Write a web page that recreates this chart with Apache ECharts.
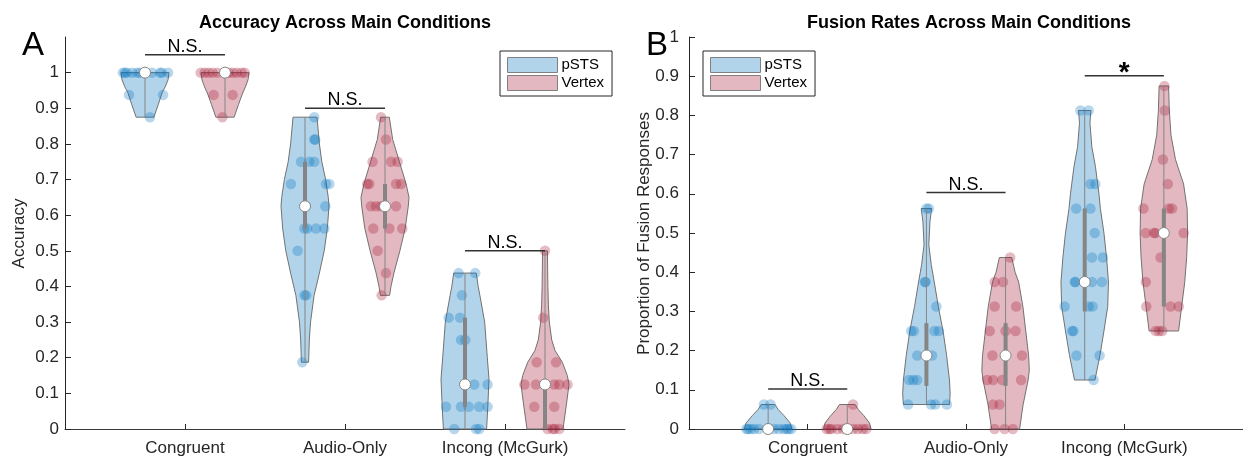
<!DOCTYPE html>
<html><head><meta charset="utf-8">
<script src="https://cdn.jsdelivr.net/npm/echarts@6/dist/echarts.min.js"></script>
<style>html,body{margin:0;padding:0;background:#fff}#c{width:1243px;height:457px}</style>
</head><body><div id="c"></div>
<script>
// ---------- DATA ----------
const categories = ['Congruent', 'Audio-Only', 'Incong (McGurk)'];
const groupNames = ['pSTS', 'Vertex'];
const yTicks = [0, 0.1, 0.2, 0.3, 0.4, 0.5, 0.6, 0.7, 0.8, 0.9, 1];

// Points: [value, horizontal jitter (category units)]
const accCongPSTS = [[1,-0.138],[1,-0.125],[1,-0.113],[1,-0.081],[1,-0.05],[1,-0.031],[1,0],[1,0.044],[1,0.094],[1,0.106],[1,0.144],[0.9375,-0.1],[0.9375,0.113],[0.875,0.031]];
const accCongVertex = [[1,-0.152],[1,-0.127],[1,-0.102],[1,-0.077],[1,-0.046],[1,0],[1,0.023],[1,0.048],[1,0.073],[1,0.104],[1,0.123],[0.9375,-0.071],[0.9375,0.048],[0.875,-0.016]];
const accAudioPSTS = [[0.875,0.058],[0.8125,0.058],[0.8125,0.064],[0.75,-0.025],[0.75,0.027],[0.75,0.058],[0.6875,-0.088],[0.6875,0.131],[0.6875,0.152],[0.625,0.006],[0.625,0.127],[0.5625,-0.004],[0.5625,0.014],[0.5625,0.069],[0.5625,0.121],[0.5,-0.046],[0.375,-0.004],[0.375,0.008],[0.1875,-0.017]];
const accAudioVertex = [[0.875,-0.025],[0.8125,0.006],[0.75,-0.078],[0.75,0.038],[0.75,0.079],[0.6875,-0.111],[0.6875,-0.098],[0.6875,0.069],[0.6875,0.1],[0.625,-0.088],[0.625,-0.056],[0.625,-0.025],[0.625,0.069],[0.5625,-0.073],[0.5625,0.027],[0.5625,0.108],[0.5,-0.046],[0.4375,0.006],[0.375,-0.021]];
const accIncongPSTS = [[0.4375,-0.04],[0.4375,0.064],[0.375,-0.019],[0.3125,-0.102],[0.3125,-0.031],[0.25,-0.025],[0.25,0.002],[0.125,0],[0.125,0.058],[0.125,0.141],[0.0625,-0.119],[0.0625,-0.025],[0.0625,0.023],[0.0625,0.089],[0.0625,0.141],[0,-0.067],[0,0.069],[0,0.089]];
const accIncongVertex = [[0.5,0],[0.3125,-0.011],[0.1875,-0.052],[0.1875,0.069],[0.125,-0.129],[0.125,-0.056],[0.125,0],[0.125,0.058],[0.125,0.089],[0.125,0.141],[0.0625,-0.067],[0.0625,0.058],[0,0.016],[0,0.048],[0,0.089],[0,0.06]];

const fusCongPSTS = [[0.0625,-0.027],[0.0625,0.015],[0,-0.138],[0,-0.127],[0,-0.11],[0,-0.089],[0,-0.058],[0,0],[0,0.036],[0,0.067],[0,0.098],[0,0.117],[0,0.129],[0,0.146]];
const fusCongVertex = [[0.0625,0.036],[0,-0.131],[0,-0.114],[0,-0.1],[0,-0.063],[0,-0.027],[0,0],[0,0.036],[0,0.067],[0,0.098],[0,0.119]];
const fusAudioPSTS = [[0.5625,0],[0.5625,0.015],[0.375,-0.01],[0.375,-0.005],[0.3125,0.063],[0.25,-0.096],[0.25,-0.079],[0.25,0.05],[0.25,0.078],[0.1875,-0.058],[0.1875,0],[0.1875,0.036],[0.125,-0.11],[0.125,-0.083],[0.125,-0.058],[0.0625,-0.116],[0.0625,0.029],[0.0625,0.056],[0.0625,0.129]];
const fusAudioVertex = [[0.4375,0.029],[0.375,-0.069],[0.375,-0.016],[0.3125,-0.069],[0.3125,0.067],[0.25,-0.1],[0.25,0],[0.25,0.063],[0.1875,-0.083],[0.1875,0],[0.1875,0.104],[0.125,-0.116],[0.125,-0.079],[0.125,-0.021],[0.125,0.098],[0.0625,-0.079],[0.0625,-0.038],[0,-0.069],[0,-0.006],[0,0.046]];
const fusIncongPSTS = [[0.8125,-0.027],[0.8125,0.025],[0.625,0.036],[0.625,0.067],[0.5625,-0.054],[0.5625,0.036],[0.5,0.063],[0.4375,0.046],[0.4375,0.115],[0.375,-0.063],[0.375,-0.058],[0.375,0],[0.375,0.046],[0.375,0.109],[0.3125,-0.127],[0.3125,0.025],[0.3125,0.05],[0.25,-0.079],[0.25,-0.071],[0.1875,-0.052],[0.1875,0.094],[0.125,0.056]];
const fusIncongVertex = [[0.875,0.004],[0.8125,0.006],[0.6875,-0.006],[0.625,0.025],[0.5625,-0.129],[0.5625,0.031],[0.5625,0.052],[0.5,-0.114],[0.5,-0.063],[0.5,-0.052],[0.5,0],[0.5,0.125],[0.4375,-0.021],[0.375,-0.114],[0.3125,-0.111],[0.3125,0.042],[0.3125,0.094],[0.25,-0.052],[0.25,-0.031],[0.25,-0.011]];

// Violin outlines: [value, relative density], top to bottom
const accCongPSTSShape = [[1,1],[0.98,0.96],[0.96,0.84],[0.945,0.72],[0.91,0.55],[0.875,0.37]];
const accCongVertexShape = [[1,1],[0.98,0.96],[0.96,0.85],[0.94,0.72],[0.91,0.56],[0.875,0.38]];
const accAudioPSTSShape = [[0.875,0.5],[0.8,0.6],[0.75,0.7],[0.7,0.86],[0.65,0.97],[0.625,1],[0.5625,0.93],[0.5,0.8],[0.4375,0.6],[0.375,0.38],[0.3,0.23],[0.25,0.18],[0.1875,0.15]];
const accAudioVertexShape = [[0.875,0.18],[0.8125,0.32],[0.75,0.6],[0.6875,0.88],[0.65,1],[0.625,0.97],[0.5625,0.84],[0.5,0.62],[0.4375,0.37],[0.4,0.25],[0.375,0.19]];
const accIncongPSTSShape = [[0.4375,0.47],[0.4,0.55],[0.375,0.62],[0.3,0.82],[0.2,0.93],[0.14,1],[0.0625,0.95],[0,0.9]];
const accIncongVertexShape = [[0.5,0.1],[0.4,0.12],[0.35,0.14],[0.3,0.18],[0.25,0.28],[0.22,0.42],[0.1875,0.72],[0.15,0.93],[0.125,1],[0.0625,0.88],[0,0.75]];
const fusCongPSTSShape = [[0.0625,0.29],[0.05,0.42],[0.034,0.67],[0.015,0.93],[0,1]];
const fusCongVertexShape = [[0.0625,0.33],[0.05,0.46],[0.034,0.7],[0.015,0.94],[0,1]];
const fusAudioPSTSShape = [[0.5625,0.22],[0.53,0.15],[0.47,0.1],[0.42,0.2],[0.375,0.33],[0.3125,0.5],[0.25,0.7],[0.1875,0.85],[0.125,0.97],[0.09,1],[0.0625,0.97]];
const fusAudioVertexShape = [[0.4375,0.26],[0.4,0.4],[0.375,0.55],[0.3125,0.73],[0.25,0.85],[0.1875,0.97],[0.15,1],[0.125,0.95],[0.0625,0.74],[0,0.59]];
const fusIncongPSTSShape = [[0.8125,0.26],[0.78,0.22],[0.72,0.3],[0.67,0.45],[0.6,0.6],[0.5625,0.66],[0.5,0.81],[0.4375,0.92],[0.375,1],[0.3125,0.97],[0.25,0.81],[0.1875,0.64],[0.125,0.43]];
const fusIncongVertexShape = [[0.875,0.2],[0.8125,0.23],[0.75,0.3],[0.6875,0.49],[0.625,0.83],[0.5625,0.98],[0.5,1],[0.4375,0.96],[0.375,0.88],[0.3125,0.75],[0.25,0.62]];

// Box stats: [q1, median, q3]
const accCongStats = [[1,1,1],[1,1,1]];
const accAudioStats = [[0.5625,0.625,0.75],[0.5625,0.625,0.6875]];
const accIncongStats = [[0.0625,0.125,0.3125],[0,0.125,0.125]];
const fusCongStats = [[0,0,0],[0,0,0]];
const fusAudioStats = [[0.11,0.1875,0.27],[0.11,0.1875,0.27]];
const fusIncongStats = [[0.3,0.375,0.5625],[0.3125,0.5,0.5625]];

// Significance bars
const accSigLabels = ['N.S.', 'N.S.', 'N.S.'];
const accSigHeights = [1.05, 0.9, 0.5];
const fusSigLabels = ['N.S.', 'N.S.', '*'];
const fusSigHeights = [0.102, 0.603, 0.901];

// ---------- STYLE ----------
const FONT = "'Liberation Sans', Arial, Helvetica, sans-serif";
const TXT = '#262626';
const MAXW = 0.15, OFFSET = 0.25;
const fills = ['rgba(0,114,189,0.3)', 'rgba(162,20,47,0.3)'];
const ptColors = ['rgba(0,114,189,0.36)', 'rgba(162,20,47,0.36)'];
const EDGE = '#727272', BOXC = '#858585';

const panels = [
  { pts: [[accCongPSTS, accCongVertex],[accAudioPSTS, accAudioVertex],[accIncongPSTS, accIncongVertex]],
    shapes: [[accCongPSTSShape, accCongVertexShape],[accAudioPSTSShape, accAudioVertexShape],[accIncongPSTSShape, accIncongVertexShape]],
    stats: [accCongStats, accAudioStats, accIncongStats],
    sigL: accSigLabels, sigH: accSigHeights, ymax: 1.1 },
  { pts: [[fusCongPSTS, fusCongVertex],[fusAudioPSTS, fusAudioVertex],[fusIncongPSTS, fusIncongVertex]],
    shapes: [[fusCongPSTSShape, fusCongVertexShape],[fusAudioPSTSShape, fusAudioVertexShape],[fusIncongPSTSShape, fusIncongVertexShape]],
    stats: [fusCongStats, fusAudioStats, fusIncongStats],
    sigL: fusSigLabels, sigH: fusSigHeights, ymax: 1 }
];

const grids = [
  { left: 65, top: 37, width: 560, height: 393 },
  { left: 689, top: 37, width: 560, height: 393 }
];

const xAxes = [], yAxes = [], series = [];
function tickFmt(v) { return (v === 0 || v === 1) ? String(v) : v.toFixed(1); }

panels.forEach((P, pi) => {
  xAxes.push({
    type: 'value', gridIndex: pi, min: 0.25, max: 3.75,
    splitLine: { show: false },
    axisLine: { show: true, onZero: false, lineStyle: { color: '#3a3a3a', width: 1 } },
    axisTick: { show: true, inside: true, length: 5, customValues: [1, 2, 3], lineStyle: { color: TXT } },
    axisLabel: { customValues: [1, 2, 3], formatter: v => categories[Math.round(v) - 1], fontSize: 17, color: TXT, fontFamily: FONT, margin: 11 }
  });
  yAxes.push({
    type: 'value', gridIndex: pi, min: 0, max: P.ymax,
    splitLine: { show: false },
    axisLine: { show: true, onZero: false, lineStyle: { color: TXT, width: 1 } },
    axisTick: { show: true, inside: true, length: 6, customValues: yTicks, lineStyle: { color: TXT } },
    axisLabel: { customValues: yTicks, formatter: tickFmt, fontSize: 17, color: TXT, fontFamily: FONT, margin: pi === 0 ? 6 : 10 }
  });

  const violins = [[], []];
  P.shapes.forEach((pair, ci) => pair.forEach((shape, gi) => {
    violins[gi].push({ pos: ci + 1 + (gi === 0 ? -OFFSET : OFFSET), shape, stats: P.stats[ci][gi] });
  }));

  // violin bodies
  [0, 1].forEach(gi => {
    const vs = violins[gi];
    series.push({
      type: 'custom', name: groupNames[gi], xAxisIndex: pi, yAxisIndex: pi, z: 1,
      silent: true,
      data: vs.map((v, i) => [v.pos, v.stats[1], i]),
      renderItem: (params, api) => {
        const v = vs[api.value(2)];
        const pts = [];
        v.shape.forEach(([y, w]) => pts.push(api.coord([v.pos + w * MAXW, y])));
        for (let k = v.shape.length - 1; k >= 0; k--) {
          const [y, w] = v.shape[k];
          pts.push(api.coord([v.pos - w * MAXW, y]));
        }
        return { type: 'polygon', shape: { points: pts }, style: { fill: fills[gi], stroke: EDGE, lineWidth: 1 } };
      }
    });
  });

  // scatter points
  [0, 1].forEach(gi => {
    const data = [];
    P.pts.forEach((pair, ci) => {
      const pos = ci + 1 + (gi === 0 ? -OFFSET : OFFSET);
      pair[gi].forEach(([val, jit]) => data.push([pos + jit, val]));
    });
    series.push({
      type: 'scatter', name: groupNames[gi] + ' subjects', xAxisIndex: pi, yAxisIndex: pi, z: 2,
      silent: true, symbol: 'circle', symbolSize: 10.5,
      itemStyle: { color: ptColors[gi], borderWidth: 0 },
      data
    });
  });

  // box, whiskers, median
  const allV = violins[0].concat(violins[1]);
  series.push({
    type: 'custom', name: 'box' + pi, xAxisIndex: pi, yAxisIndex: pi, z: 3, silent: true,
    data: allV.map((v, i) => [v.pos, v.stats[1], i]),
    renderItem: (params, api) => {
      const v = allV[api.value(2)];
      const top = v.shape[0][0], bot = v.shape[v.shape.length - 1][0];
      const a = api.coord([v.pos, top]), b = api.coord([v.pos, bot]);
      const q1 = api.coord([v.pos, v.stats[0]]), q3 = api.coord([v.pos, v.stats[2]]);
      const m = api.coord([v.pos, v.stats[1]]);
      return { type: 'group', children: [
        { type: 'line', shape: { x1: a[0], y1: a[1], x2: b[0], y2: b[1] }, style: { stroke: BOXC, lineWidth: 1 } },
        { type: 'line', shape: { x1: q1[0], y1: q1[1], x2: q3[0], y2: q3[1] }, style: { stroke: BOXC, lineWidth: 4 } },
        { type: 'circle', shape: { cx: m[0], cy: m[1], r: 5.5 }, style: { fill: '#fff', stroke: BOXC, lineWidth: 1 } }
      ] };
    }
  });

  // significance bars
  series.push({
    type: 'custom', name: 'sig' + pi, xAxisIndex: pi, yAxisIndex: pi, z: 4, silent: true,
    data: P.sigH.map((h, i) => [i + 1, h, i]),
    renderItem: (params, api) => {
      const i = api.value(2);
      const p1 = api.coord([i + 1 - OFFSET, P.sigH[i]]);
      const p2 = api.coord([i + 1 + OFFSET, P.sigH[i]]);
      const label = P.sigL[i];
      const star = label === '*';
      return { type: 'group', children: [
        { type: 'line', shape: { x1: p1[0], y1: p1[1], x2: p2[0], y2: p2[1] }, style: { stroke: '#333', lineWidth: 1.5 } },
        { type: 'text', x: (p1[0] + p2[0]) / 2, y: star ? p1[1] - 3 : p1[1] + 1,
          style: { text: label, fill: '#000', font: (star ? 'bold 28px ' : '18px ') + FONT, align: 'center', verticalAlign: star ? 'middle' : 'bottom' } }
      ] };
    }
  });
});

const legendData = [
  { name: 'pSTS', icon: 'rect', itemStyle: { color: fills[0], borderColor: '#808080', borderWidth: 1 } },
  { name: 'Vertex', icon: 'rect', itemStyle: { color: fills[1], borderColor: '#808080', borderWidth: 1 } }
];
const legendBase = {
  orient: 'vertical', top: 51, itemWidth: 50, itemHeight: 15, itemGap: 2,
  padding: [6, 8, 5, 7], borderColor: '#262626', borderWidth: 1, backgroundColor: '#fff',
  selectedMode: false, data: legendData,
  textStyle: { fontSize: 15, color: '#000', fontFamily: FONT, lineHeight: 15, padding: [0, 0, 0, -1] }
};

const option = {
  backgroundColor: '#fff',
  animation: false,
  grid: grids,
  xAxis: xAxes,
  yAxis: yAxes,
  legend: [Object.assign({}, legendBase, { left: 500 }), Object.assign({}, legendBase, { left: 703 })],
  graphic: [
    { type: 'text', x: 345, y: 23, style: { text: 'Accuracy Across Main Conditions', font: 'bold 18px ' + FONT, fill: '#000', align: 'center', verticalAlign: 'middle' } },
    { type: 'text', x: 969, y: 23, style: { text: 'Fusion Rates Across Main Conditions', font: 'bold 18px ' + FONT, fill: '#000', align: 'center', verticalAlign: 'middle' } },
    { type: 'text', x: 33, y: 46, style: { text: 'A', font: '33px ' + FONT, fill: '#000', align: 'center', verticalAlign: 'middle' } },
    { type: 'text', x: 657, y: 46, style: { text: 'B', font: '33px ' + FONT, fill: '#000', align: 'center', verticalAlign: 'middle' } },
    { type: 'text', x: 19.5, y: 233.5, rotation: Math.PI / 2, style: { text: 'Accuracy', font: '17px ' + FONT, fill: TXT, align: 'center', verticalAlign: 'middle' } },
    { type: 'text', x: 644, y: 233.5, rotation: Math.PI / 2, style: { text: 'Proportion of Fusion Responses', font: '17px ' + FONT, fill: TXT, align: 'center', verticalAlign: 'middle' } }
  ],
  series
};

const chart = echarts.init(document.getElementById('c'), null, { renderer: 'canvas' });
chart.setOption(option);
</script>
</body></html>
